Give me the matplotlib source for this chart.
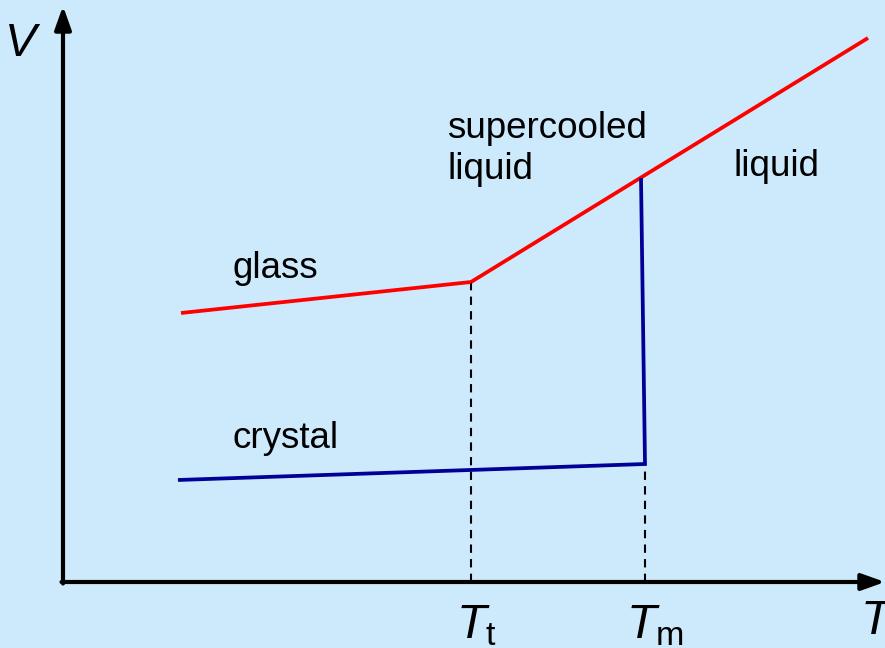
import matplotlib
matplotlib.use("Agg")
import matplotlib.pyplot as plt

# Data (temperature T, volume V in arbitrary units; origin at axes corner)
T_glass = [118, 408]
V_glass = [269, 300]
T_liquid = [408, 805]
V_liquid = [300, 544]
T_crystal = [115, 582, 578]
V_crystal = [102, 118, 404]
T_t = 408
T_m = 582
V_t = 300
V_m_low = 118

BG = "#cceafc"
plt.rcParams['font.family'] = ['Liberation Sans', 'DejaVu Sans']
plt.rcParams['mathtext.fontset'] = 'custom'
plt.rcParams['mathtext.rm'] = 'Liberation Sans'
plt.rcParams['mathtext.it'] = 'Liberation Sans:italic'

fig = plt.figure(figsize=(8.85, 6.48), dpi=100, facecolor=BG)
ax = fig.add_axes([0, 0, 1, 1])
ax.set_facecolor(BG)
ax.set_xlim(-63, 822)
ax.set_ylim(-66, 582)
ax.axis('off')

# axes with arrows
ax.annotate('', xy=(822, 0), xytext=(-1.5, 0),
            arrowprops=dict(arrowstyle='-|>,head_length=1.4,head_width=0.5', lw=3, color='black',
                            shrinkA=0, shrinkB=0))
ax.annotate('', xy=(0, 576), xytext=(0, -1.5),
            arrowprops=dict(arrowstyle='-|>,head_length=1.4,head_width=0.5', lw=3, color='black',
                            shrinkA=0, shrinkB=0))

# dashed guide lines
ax.plot([T_t, T_t], [0, V_t], ls=(0, (4, 3)), color='black', lw=1.5)
ax.plot([T_m, T_m], [0, V_m_low], ls=(0, (4, 3)), color='black', lw=1.5)

# curves
ax.plot(T_glass, V_glass, color='#ff0000', lw=2.7, solid_capstyle='butt')
ax.plot(T_liquid, V_liquid, color='#ff0000', lw=2.7, solid_capstyle='butt')
ax.plot(T_crystal, V_crystal, color='#000099', lw=2.7, solid_capstyle='butt', solid_joinstyle='miter')

# text labels
fs = 26.5
ax.text(170, 314, 'glass', fontsize=fs, ha='left', va='center')
ax.text(169, 144, 'crystal', fontsize=fs, ha='left', va='center')
ax.text(384, 433, 'supercooled\nliquid', fontsize=fs, ha='left', va='center', linespacing=1.23)
ax.text(670, 415, 'liquid', fontsize=fs, ha='left', va='center')

ax.text(-22, 538, r'$V$', fontsize=34, ha='right', va='center')
ax.text(T_t + 5, -44, r'$T_{\rm t}$', fontsize=35, ha='center', va='center')
ax.text(T_m + 10, -44, r'$T_{\rm m}$', fontsize=35, ha='center', va='center')
ax.text(814, -40, r'$T$', fontsize=35, ha='center', va='center')

fig.savefig('out.png', dpi=100, facecolor=BG)
